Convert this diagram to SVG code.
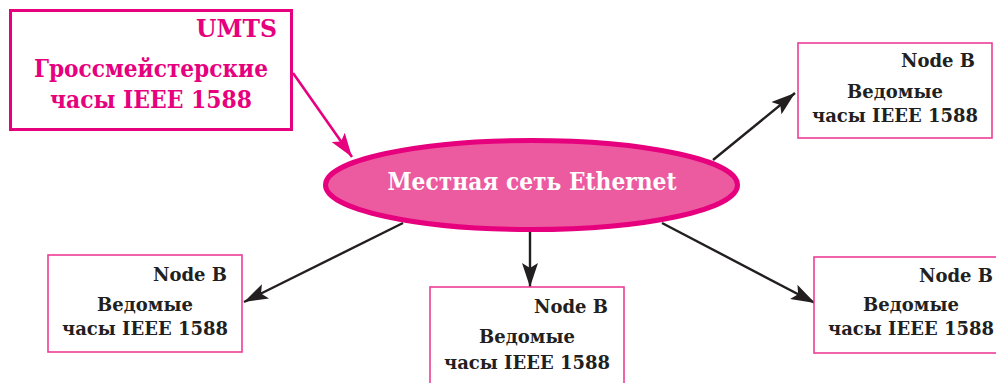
<svg xmlns="http://www.w3.org/2000/svg" width="996" height="383" viewBox="0 0 996 383">
<defs>
<style>
.t{font-family:"DejaVu Serif","Liberation Serif",serif;font-weight:bold;}
.pk{fill:#e6007e;font-size:23.5px;}
.nd{fill:#231f20;font-size:18px;}
.mid{text-anchor:middle;}
.end{text-anchor:end;}
.nbox{fill:#fff;stroke:#ee3c96;stroke-width:1.6;}
.blk{stroke:#231f20;stroke-width:2.4;fill:none;marker-end:url(#ab);}
</style>
<marker id="ab" markerUnits="userSpaceOnUse" viewBox="0 0 24 16" refX="24" refY="8" markerWidth="24" markerHeight="16" orient="auto"><path d="M0,0 L24,8 L0,16 L5,8 Z" fill="#231f20"/></marker>
<marker id="ap" markerUnits="userSpaceOnUse" viewBox="0 0 24 16" refX="24" refY="8" markerWidth="24" markerHeight="16" orient="auto"><path d="M0,0 L24,8 L0,16 L5,8 Z" fill="#e6007e"/></marker>
</defs>
<rect width="996" height="383" fill="#fff"/>
<g id="connectors">
<line x1="293" y1="73" x2="352" y2="157" stroke="#e6007e" stroke-width="2.6" marker-end="url(#ap)"/>
<line class="blk" x1="713" y1="160" x2="795" y2="93"/>
<line class="blk" x1="403" y1="223" x2="244" y2="302"/>
<line class="blk" x1="530" y1="232" x2="530" y2="287"/>
<line class="blk" x1="662" y1="223" x2="815" y2="303"/>
</g>
<g id="umts">
<rect x="10.5" y="10.5" width="281" height="119" fill="#fff" stroke="#e6007e" stroke-width="3"/>
<text class="t pk end" x="277" y="37">UMTS</text>
<text class="t pk mid" x="151" y="77" textLength="234" lengthAdjust="spacingAndGlyphs">Гроссмейстерские</text>
<text class="t pk mid" x="151" y="108" textLength="202" lengthAdjust="spacingAndGlyphs">часы IEEE 1588</text>
</g>
<g id="ethernet">
<ellipse cx="531.5" cy="185" rx="206" ry="44.5" fill="#ec5a9f" stroke="#e6007e" stroke-width="5"/>
<text class="t mid" x="532" y="190" fill="#fff" font-size="25" textLength="289" lengthAdjust="spacingAndGlyphs">Местная сеть Ethernet</text>
</g>
<g id="nodeTR">
<rect class="nbox" x="798" y="43" width="194" height="95"/>
<text class="t nd end" x="975" y="67">Node B</text>
<text class="t nd mid" x="895" y="98">Ведомые</text>
<text class="t nd mid" x="895" y="122">часы IEEE 1588</text>
</g>
<g id="nodeBL">
<rect class="nbox" x="48" y="255" width="194" height="97"/>
<text class="t nd end" x="227" y="281">Node B</text>
<text class="t nd mid" x="145" y="311">Ведомые</text>
<text class="t nd mid" x="145" y="335">часы IEEE 1588</text>
</g>
<g id="nodeBC">
<rect class="nbox" x="430" y="287" width="194" height="100"/>
<text class="t nd end" x="608" y="313">Node B</text>
<text class="t nd mid" x="527" y="343">Ведомые</text>
<text class="t nd mid" x="527" y="369">часы IEEE 1588</text>
</g>
<g id="nodeBR">
<rect class="nbox" x="814" y="257" width="194" height="96"/>
<text class="t nd end" x="993" y="282">Node B</text>
<text class="t nd mid" x="911" y="311">Ведомые</text>
<text class="t nd mid" x="911" y="335">часы IEEE 1588</text>
</g>
</svg>
